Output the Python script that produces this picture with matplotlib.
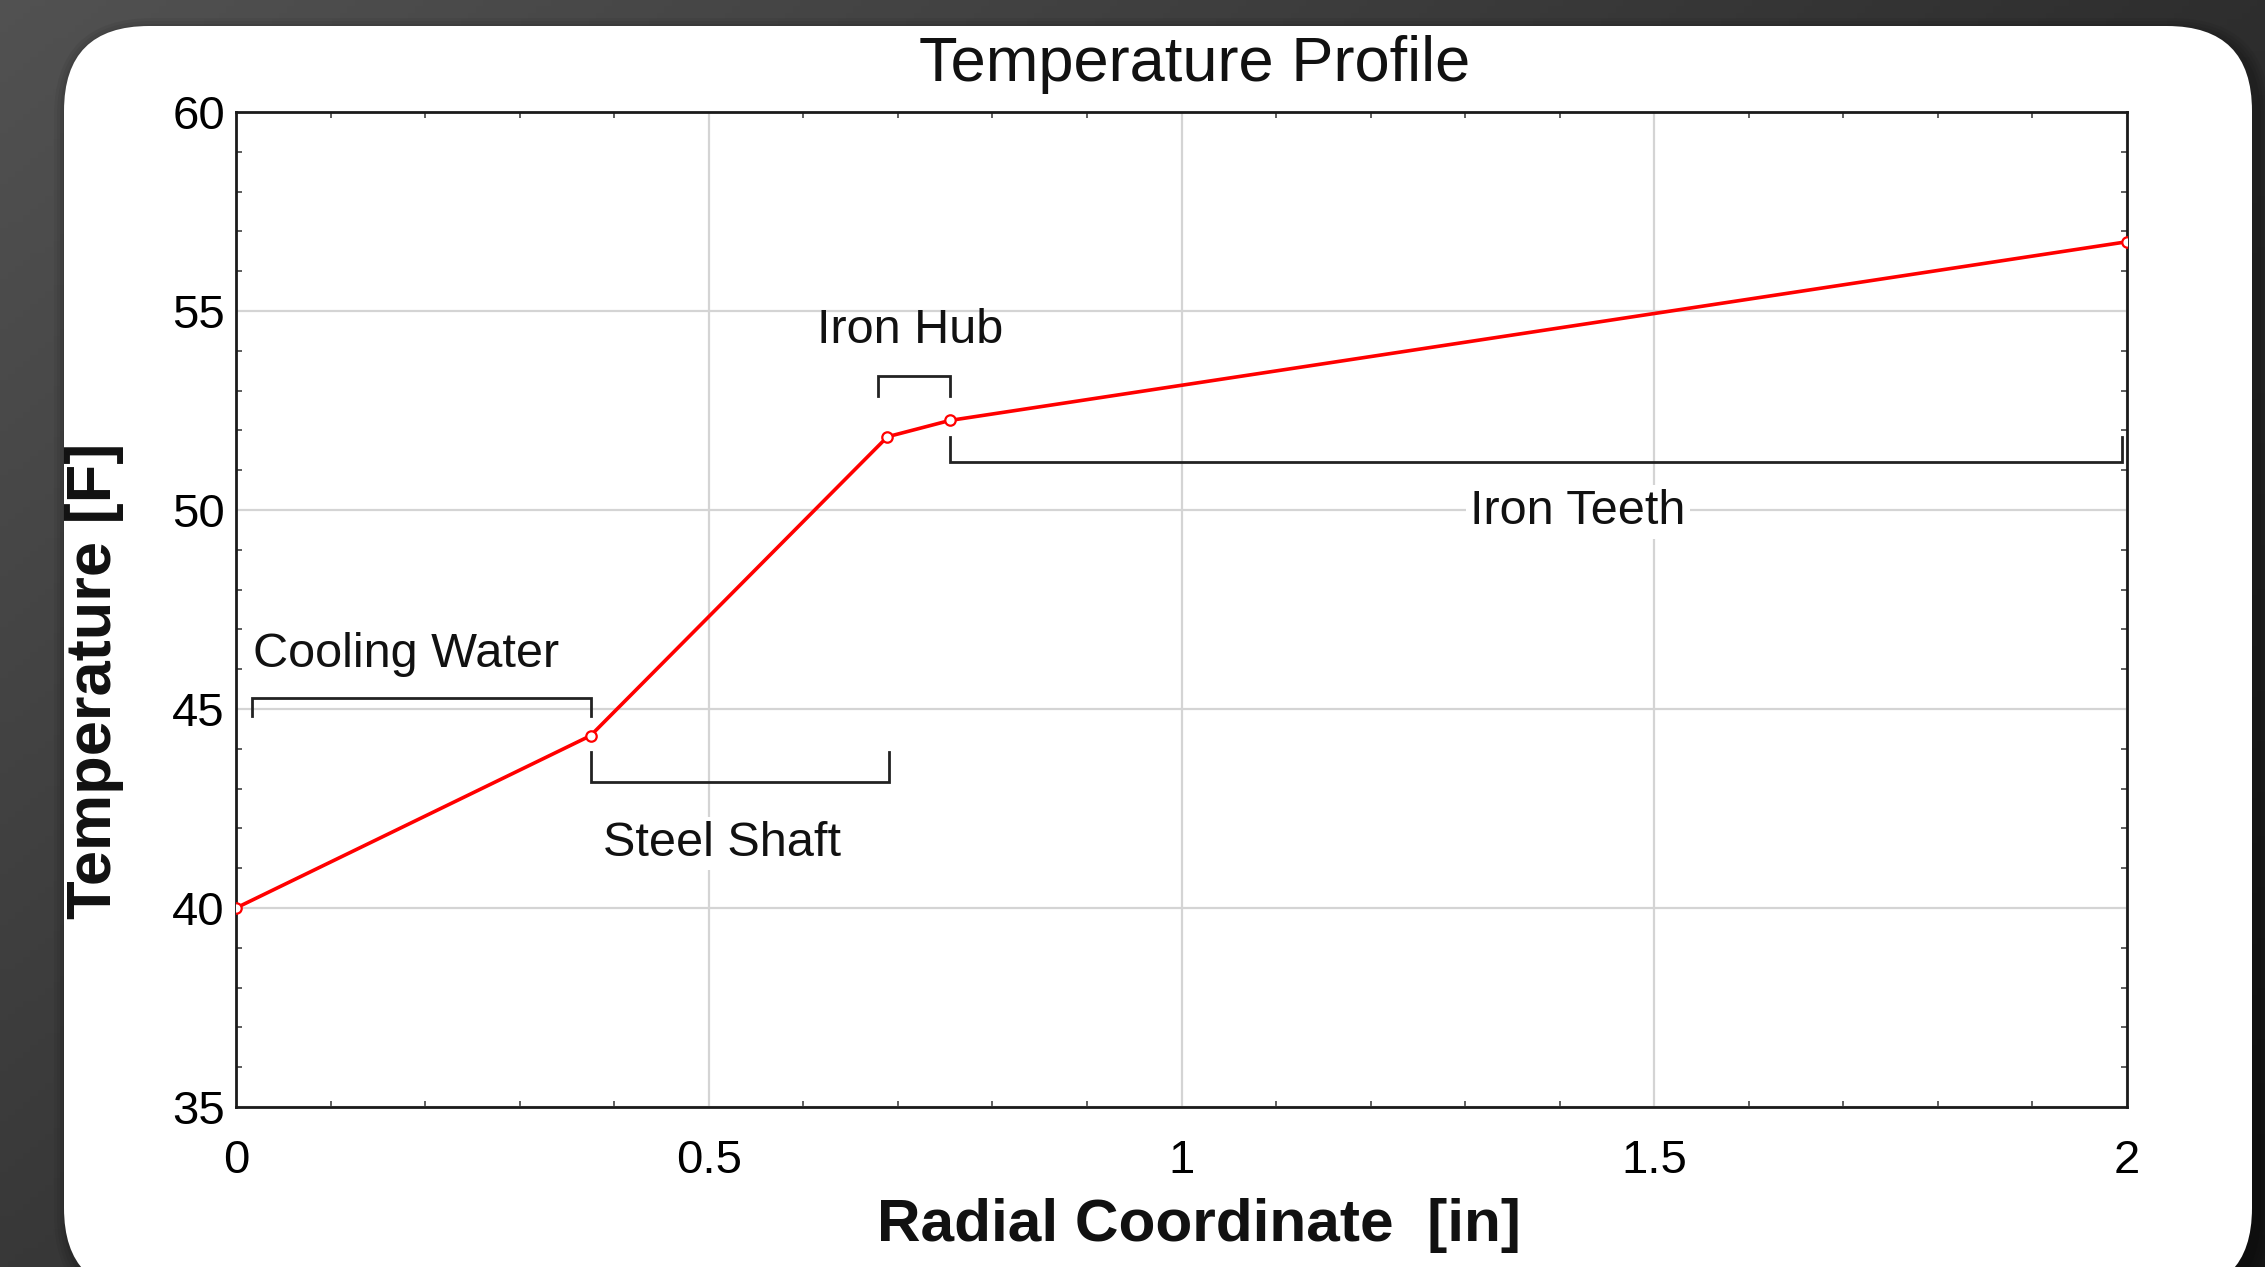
import numpy as np
import matplotlib
matplotlib.use("Agg")
import matplotlib.pyplot as plt
from matplotlib.patches import FancyBboxPatch

# ---- data ----
radius = [0.0, 0.375, 0.689, 0.755, 2.0]
temperature = [40.0, 44.33, 51.84, 52.25, 56.74]

region_names = ["Cooling Water", "Steel Shaft", "Iron Hub", "Iron Teeth"]
region_start = [0.017, 0.375, 0.679, 0.755]
region_end = [0.375, 0.691, 0.755, 1.995]

x_ticks = [0, 0.5, 1, 1.5, 2]
x_tick_labels = ["0", "0.5", "1", "1.5", "2"]
y_ticks = [35, 40, 45, 50, 55, 60]
y_tick_labels = ["35", "40", "45", "50", "55", "60"]

title = "Temperature Profile"
x_label = "Radial Coordinate  [in]"
y_label = "Temperature [F]"

# bracket layout: (bar level, leg end level, label x, label y, ha, white box)
bracket_layout = [
    (45.27, 44.83, 0.018, 46.36, "left", False),
    (43.17, 43.93, 0.5145, 41.62, "center", True),
    (53.37, 52.86, 0.713, 54.5, "center", False),
    (51.21, 51.83, 1.419, 49.95, "center", True),
]

plt.rcParams["font.family"] = ["Liberation Sans", "DejaVu Sans"]

W, H = 2265, 1267
fig = plt.figure(figsize=(W / 100, H / 100), dpi=100)

# ---- background ----
bg = fig.add_axes([0, 0, 1, 1])
bg.set_xlim(0, W)
bg.set_ylim(H, 0)
bg.axis("off")
u = np.linspace(0, 1, 300)[None, :]
v = np.linspace(0, 1, 200)[:, None]
c = 0.32 - 0.14 * u - 0.10 * v
img = np.dstack([c, c, c])
bg.imshow(img, extent=[0, W, H, 0], aspect="auto", zorder=0)
for i, a in enumerate([0.05, 0.05, 0.06, 0.07]):
    g = 14 - 3 * i
    bg.add_patch(FancyBboxPatch((64 - g + 4, 26 - g + 6), 2188 + 2 * g, 1267 + 2 * g,
                                boxstyle="round,pad=0,rounding_size=%d" % (85 + g),
                                facecolor="black", edgecolor="none", alpha=a, zorder=1))
bg.add_patch(FancyBboxPatch((64, 26), 2188, 1267, boxstyle="round,pad=0,rounding_size=85",
                            facecolor="white", edgecolor="none", zorder=2))

# ---- main axes ----
ax = fig.add_axes([236 / W, (H - 1107) / H, 1891 / W, 995 / H])
ax.set_xlim(0, 2)
ax.set_ylim(35, 60)

ax.plot(radius, temperature, color="#ff0000", lw=2.6, marker="o", ms=7.5,
        mfc="white", mec="#ff0000", mew=1.6, zorder=4)

ax.set_xticks(x_ticks)
ax.set_xticklabels(x_tick_labels)
ax.set_yticks(y_ticks)
ax.set_yticklabels(y_tick_labels)
ax.set_xticks(np.arange(0, 2.0001, 0.1), minor=True)
ax.set_yticks(np.arange(35, 60.0001, 1), minor=True)
ax.tick_params(which="both", direction="in", top=True, right=True, color="#333333")
ax.tick_params(which="major", length=0, labelsize=34)
ax.tick_params(which="minor", length=4, width=1.1)
ax.tick_params(axis="x", which="major", pad=23)
ax.tick_params(axis="y", which="major", pad=8)
ax.grid(True, which="major", color="#d4d4d4", lw=1.6, zorder=0)
ax.set_axisbelow(True)
for s in ax.spines.values():
    s.set_linewidth(2.0)
    s.set_color("#1a1a1a")

# brackets
for name, x0, x1, (bar, leg, lx, ly, ha, box) in zip(region_names, region_start,
                                                     region_end, bracket_layout):
    ax.plot([x0, x0, x1, x1], [leg, bar, bar, leg], color="#222222", lw=2.0,
            solid_joinstyle="miter", zorder=3)
    kw = {}
    if box:
        kw["bbox"] = dict(facecolor="white", edgecolor="none", pad=3)
    ax.text(lx, ly, name, fontsize=35, ha=ha, va="center", color="#111111",
            zorder=5, **kw)

ax.text(0.507, 1.048, title, transform=ax.transAxes, fontsize=45.5, ha="center",
        va="center", color="#111111")
ax.set_xlabel(x_label, fontsize=43.5, fontweight="bold", color="#111111")
ax.xaxis.set_label_coords(0.509, -0.119)
ax.xaxis.label.set_va("center")
ax.set_ylabel(y_label, fontsize=45.5, fontweight="bold", color="#111111")
ax.yaxis.set_label_coords(-0.075, 0.428)
ax.yaxis.label.set_va("center")

fig.savefig("out.png", dpi=100)
